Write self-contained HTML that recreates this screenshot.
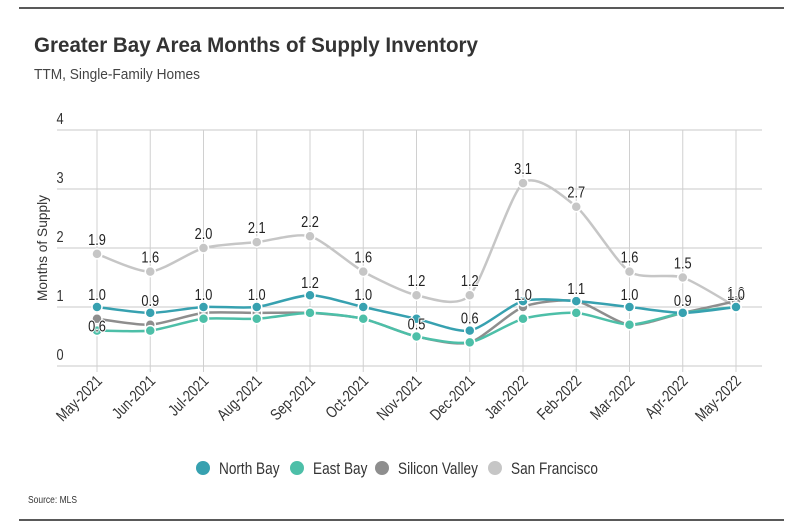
<!DOCTYPE html>
<html><head><meta charset="utf-8"><style>
body{margin:0;width:800px;height:528px;background:#fff;overflow:hidden;font-family:"Liberation Sans",sans-serif}
svg{display:block}
</style></head><body>
<svg id="c" width="800" height="528">
<line x1="19" y1="8" x2="784" y2="8" stroke="#222" stroke-width="1.5"/>
<line x1="19" y1="520" x2="784" y2="520" stroke="#222" stroke-width="1.5"/>
<text x="34" y="52" font-size="21" font-weight="bold" fill="#333" textLength="444" lengthAdjust="spacingAndGlyphs">Greater Bay Area Months of Supply Inventory</text>
<text x="34" y="79" font-size="15" fill="#444" textLength="166" lengthAdjust="spacingAndGlyphs">TTM, Single-Family Homes</text>
<text transform="translate(47,248) rotate(-90)" font-size="14" fill="#333" text-anchor="middle" textLength="106" lengthAdjust="spacingAndGlyphs">Months of Supply</text>
<text x="28" y="503" font-size="10" fill="#333" textLength="49" lengthAdjust="spacingAndGlyphs">Source: MLS</text>
<g id="grid"></g><g id="series"></g><g id="labels"></g><g id="legend"></g>
</svg>
<script>
const categories=["May-2021","Jun-2021","Jul-2021","Aug-2021","Sep-2021","Oct-2021","Nov-2021","Dec-2021","Jan-2022","Feb-2022","Mar-2022","Apr-2022","May-2022"];
const northBay=[1.0,0.9,1.0,1.0,1.2,1.0,0.8,0.6,1.1,1.1,1.0,0.9,1.0];
const eastBay=[0.6,0.6,0.8,0.8,0.9,0.8,0.5,0.4,0.8,0.9,0.7,0.9,1.0];
const siliconValley=[0.8,0.7,0.9,0.9,0.9,0.8,0.5,0.4,1.0,1.1,0.7,0.9,1.1];
const sanFrancisco=[1.9,1.6,2.0,2.1,2.2,1.6,1.2,1.2,3.1,2.7,1.6,1.5,1.0];
const yTicks=[0,1,2,3,4];
const lowLabels=["1.0","0.9","1.0","1.0","1.2","1.0","0.5","0.6","1.0","1.1","1.0","0.9","1.0"];
const lowLabelVals=[1.0,0.9,1.0,1.0,1.2,1.0,0.5,0.6,1.0,1.1,1.0,0.9,1.0];
const seriesNames=["North Bay","East Bay","Silicon Valley","San Francisco"];
const NS="http://www.w3.org/2000/svg";
const x=i=>97+i*(736-97)/(categories.length-1);
const y=v=>366-v*59;
function mk(tag,attrs,parent){const e=document.createElementNS(NS,tag);for(const k in attrs)e.setAttribute(k,attrs[k]);parent.appendChild(e);return e;}
const grid=document.getElementById('grid');
yTicks.forEach(t=>{
 const l=mk('line',{x1:57,x2:762,y1:y(t),y2:y(t),stroke:'#c8c8c8','stroke-width':1},grid);
 
 
 const tx=mk('text',{x:60,y:y(t)-6,'font-size':16,fill:'#333','text-anchor':'middle'},grid);
 tx.textContent=t;
 
 
});
categories.forEach((c,i)=>{
 const l=mk('line',{x1:x(i),x2:x(i),y1:y(4),y2:y(0)+6,stroke:'#d0d0d0','stroke-width':1},grid);
 
 
 const tx=mk('text',{transform:`translate(${x(i)+6},${y(0)+16}) rotate(-45)`,'font-size':16,fill:'#333','text-anchor':'end'},grid);
 tx.textContent=c;
 
 
});
function path(vals){
 const p=vals.map((v,i)=>[x(i),y(v)]);
 let d=`M${p[0][0]},${p[0][1]}`;
 for(let i=0;i<p.length-1;i++){
  const p0=p[Math.max(0,i-1)],p1=p[i],p2=p[i+1],p3=p[Math.min(p.length-1,i+2)];
  const t=0.12;
  const c1=[p1[0]+(p2[0]-p0[0])*t,p1[1]+(p2[1]-p0[1])*t];
  const c2=[p2[0]-(p3[0]-p1[0])*t,p2[1]-(p3[1]-p1[1])*t];
  d+=` C${c1[0]},${c1[1]} ${c2[0]},${c2[1]} ${p2[0]},${p2[1]}`;
 }
 return d;
}
const sg=document.getElementById('series');
const all=[sanFrancisco,siliconValley,eastBay,northBay];
const cols=['#c6c6c6','#8e8e8e','#4dbfa8','#37a1b0'];
const names=['san-francisco','silicon-valley','east-bay','north-bay'];
all.forEach((vals,s)=>{
 const pth=mk('path',{d:path(vals),fill:'none',stroke:cols[s],'stroke-width':2.5},sg);
 
 
 vals.forEach((v,i)=>{
  const c=mk('circle',{cx:x(i),cy:y(v),r:5,fill:cols[s],stroke:'#fff','stroke-width':1.5},sg);
  
  
 });
});
const lg=document.getElementById('labels');
function lab(tx,xx,yy){const t=mk('text',{x:xx,y:yy,'font-size':16,fill:'#222','text-anchor':'middle',stroke:'#fff','stroke-width':2,'paint-order':'stroke'},lg);t.textContent=tx;
 
 }
sanFrancisco.forEach((v,i)=>lab(v.toFixed(1),x(i),y(v)-9));
lowLabels.forEach((s,i)=>lab(s,x(i),y(lowLabelVals[i])-7));
lab(eastBay[0].toFixed(1),x(0),y(eastBay[0])+1);
const leg=document.getElementById('legend');
const lx=[203,297,382,495],lcols=['#37a1b0','#4dbfa8','#8e8e8e','#c6c6c6'];
seriesNames.forEach((n,i)=>{
 const c=mk('circle',{cx:lx[i],cy:468,r:7,fill:lcols[i]},leg);
 
 
 const t=mk('text',{x:lx[i]+16,y:474,'font-size':17,fill:'#333'},leg);
 t.textContent=n;
 
 
});
document.querySelectorAll('#grid text, #labels text, #legend text').forEach(t=>{
 const w=t.getComputedTextLength();
 t.setAttribute('textLength',(w*0.8).toFixed(1));
 t.setAttribute('lengthAdjust','spacingAndGlyphs');
});
</script>
</body></html>
